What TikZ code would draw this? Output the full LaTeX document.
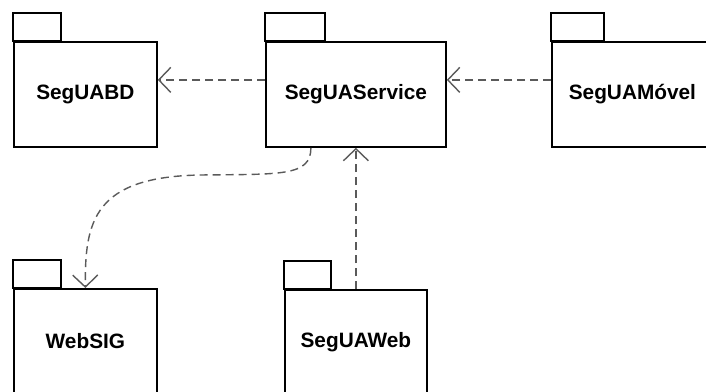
\documentclass[tikz,border=0pt]{standalone}
\usepackage{fontspec}
\setmainfont{Liberation Sans}
\usetikzlibrary{arrows.meta}

\definecolor{depgray}{HTML}{5A5A5A}

\tikzset{
  pkgbody/.style={draw=black, line width=1.8pt, fill=white, rectangle,
    anchor=north west, minimum height=105pt, inner sep=0pt,
    font=\bfseries\fontsize{20.8}{24}\selectfont},
  pkgtab/.style={draw=black, line width=1.8pt},
  dep/.style={draw=depgray, line width=1.4pt, dash pattern=on 8pt off 5pt,
    -{Straight Barb[length=12pt, width=25pt, line width=1.4pt]}},
}

% package: body node plus the small tab on its top-left corner
\newcommand{\umlpkg}[6]{%
  \node[pkgbody, minimum width=#4] (#1) at (#2,#3) {#6};
  \draw[pkgtab] (#1.north west) rectangle ++(#5,-28);
}

\begin{document}
\begin{tikzpicture}[x=1pt, y=-1pt]
  \useasboundingbox (0,0) rectangle (706,391);
  \clip (0,0) rectangle (706,391);

  \umlpkg{bd}{13}{41}{143pt}{48}{SegUABD}
  \umlpkg{svc}{265}{41}{180pt}{60}{SegUAService}
  \umlpkg{mov}{551}{41}{161pt}{53}{SegUAMóvel}
  \umlpkg{sig}{13}{288}{143pt}{48}{WebSIG}
  \umlpkg{web}{284}{289}{142pt}{47}{SegUAWeb}

  % dependencies
  \draw[dep] ([yshift=14.5pt]svc.west) -- ([yshift=14.5pt]bd.east);
  \draw[dep] ([yshift=14.5pt]mov.west) -- ([yshift=14.5pt]svc.east);
  \draw[dep] (web.north) -- (svc.south);
  \draw[dep] ([xshift=-45pt]svc.south)
    .. controls +(0,29) and (280,174) .. (200,175)
    .. controls (95,177) and (84.5,220) .. (sig.north);
\end{tikzpicture}
\end{document}
